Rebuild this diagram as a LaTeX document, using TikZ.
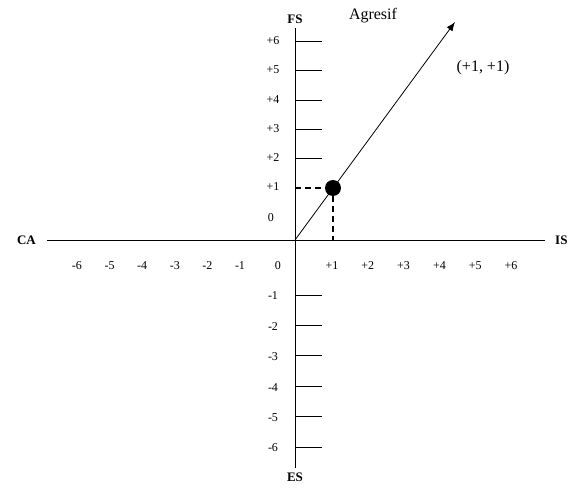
\documentclass[tikz,border=0pt]{standalone}
\usepackage{fontspec}
\setmainfont{Liberation Serif}
\usepackage{tikz}
\usetikzlibrary{positioning,arrows.meta}

\tikzset{
    axis/.style={line width=0.8pt},
    tick/.style={line width=0.8pt},
    ticklabel/.style={font=\fontsize{12}{12}\selectfont, inner sep=0pt},
    axislabel/.style={font=\fontsize{13}{13}\selectfont\bfseries, inner sep=1pt},
    bigtext/.style={font=\fontsize{16}{16}\selectfont, inner sep=1pt},
    guide/.style={line width=1.3pt, dash pattern=on 6pt off 4pt}
}

\begin{document}
\begin{tikzpicture}[x=1pt, y=1pt]
    \useasboundingbox (-295,-250) rectangle (281,240);

    % sumbu
    \coordinate (o) at (0,0);
    \coordinate (kiri) at (-248,0);
    \coordinate (kanan) at (250,0);
    \coordinate (atas) at (0,212);
    \coordinate (bawah) at (0,-228);

    \draw[axis] (kiri) -- (kanan);
    \draw[axis] (bawah) -- (atas);

    \node[axislabel, left=10pt of kiri] (ca) {CA};
    \node[axislabel, right=9pt of kanan] (is) {IS};
    \node[axislabel, above=3pt of atas] (fs) {FS};
    \node[axislabel, below=4pt of bawah] (es) {ES};
    \node[bigtext] (agresif) at (78,224) {Agresif};

    % garis skala vertikal
    \foreach \k in {2,...,6} {
        \draw[tick] (0,{52+29.3*(\k-1)}) -- (27,{52+29.3*(\k-1)});
        \node[ticklabel] at (-22,{53+29.3*(\k-1)}) {+\k};
    }
    \foreach \k in {1,...,6} {
        \draw[tick] (0,{-55-30.4*(\k-1)}) -- (27,{-55-30.4*(\k-1)});
        \node[ticklabel] at (-22,{-56-30.4*(\k-1)}) {-\k};
        \node[ticklabel] at ({-55-32.6*(\k-1)},-26) {-\k};
        \node[ticklabel] at ({37+35.8*(\k-1)},-26) {+\k};
    }
    \node[ticklabel] at (-22,53) {+1};
    \node[ticklabel] at (-24,22) {0};
    \node[ticklabel] at (-17,-26) {0};

    % titik (+1, +1)
    \node[circle, fill, minimum size=16pt, inner sep=0pt] (p) at (38,52) {};
    \coordinate (py) at (0,52);
    \coordinate (px) at (38,0);
    \draw[guide] (py) -- (p);
    \draw[guide] (p) -- (px);

    \coordinate (ujung) at (160,218);
    \draw[line width=0.8pt, -{Latex[length=9pt, width=7pt]}] (o) -- (ujung);
    \node[bigtext] (koord) at (188,172) {(+1, +1)};

\end{tikzpicture}
\end{document}
